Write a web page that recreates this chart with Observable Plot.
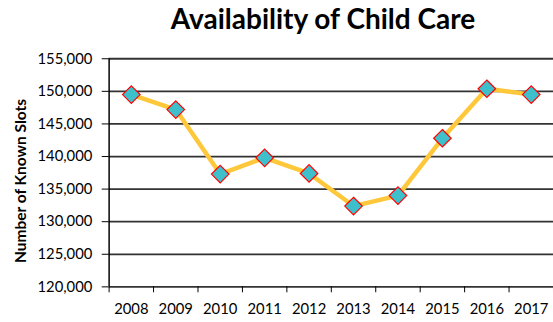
<!DOCTYPE html>
<html>
<head>
<meta charset="utf-8">
<script src="https://cdn.jsdelivr.net/npm/d3@7"></script>
<script src="https://cdn.jsdelivr.net/npm/@observablehq/plot@0.6"></script>
<style>
  html, body { margin: 0; padding: 0; background: #fff; overflow: hidden; }
  #wrap { position: relative; width: 553px; height: 322px; overflow: hidden; font-family: Lato, sans-serif; }
  #title { position: absolute; left: 0; top: 4px; width: 646px; text-align: center; font: bold 28px/28px Lato, sans-serif; color: #000; }
  #ylab { position: absolute; left: -80px; top: 171px; width: 200px; height: 20px; line-height: 20px; text-align: center; font: bold 15.5px/20px Lato, sans-serif; transform: rotate(-90deg); color: #000; white-space: nowrap; }
  #chart { position: absolute; left: 0; top: 0; }
</style>
</head>
<body>
<div id="wrap">
  <div id="chart"></div>
  <div id="title">Availability of Child Care</div>
  <div id="ylab">Number of Known Slots</div>
</div>
<script>
const years = [2008, 2009, 2010, 2011, 2012, 2013, 2014, 2015, 2016, 2017];
const slots = [149500, 147200, 137300, 139800, 137400, 132400, 134000, 142800, 150400, 149500];
const yTicks = [120000, 125000, 130000, 135000, 140000, 145000, 150000, 155000];
const xEdges = [2007.5, 2008.5, 2009.5, 2010.5, 2011.5, 2012.5, 2013.5, 2014.5, 2015.5, 2016.5, 2017.5];

const data = years.map((year, i) => ({year, slots: slots[i]}));

const chart = Plot.plot({
  width: 560,
  height: 322,
  marginLeft: 110,
  marginRight: 0,
  marginTop: 59,
  marginBottom: 32,
  style: {fontFamily: "Lato, sans-serif", fontSize: "15px", color: "#000", background: "transparent"},
  x: {type: "linear", domain: [2007.5, 2017.5], label: null},
  y: {domain: [120000, 155000], label: null},
  marks: [
    Plot.ruleY(yTicks, {stroke: "#333", strokeWidth: 1.8}),
    Plot.ruleX([2007.5], {stroke: "#000", strokeWidth: 1.5}),
    Plot.axisY({ticks: yTicks, tickFormat: d3.format(","), tickSize: 7, tickPadding: 10, label: null, stroke: "#000"}),
    Plot.axisX({ticks: xEdges, tickFormat: () => "", tickSize: 6, label: null, stroke: "#000"}),
    Plot.axisX({ticks: years, tickFormat: d => String(d), tickSize: 0, tickPadding: 17, label: null}),
    Plot.line(data, {x: "year", y: "slots", stroke: "#FFC73A", strokeWidth: 4.5}),
    Plot.dot(data, {x: "year", y: "slots", symbol: "diamond2", r: 8, fill: "#3DBFCC", stroke: "#FF0000", strokeWidth: 1.2, fillOpacity: 1})
  ]
});
document.getElementById("chart").appendChild(chart);
</script>
</body>
</html>
